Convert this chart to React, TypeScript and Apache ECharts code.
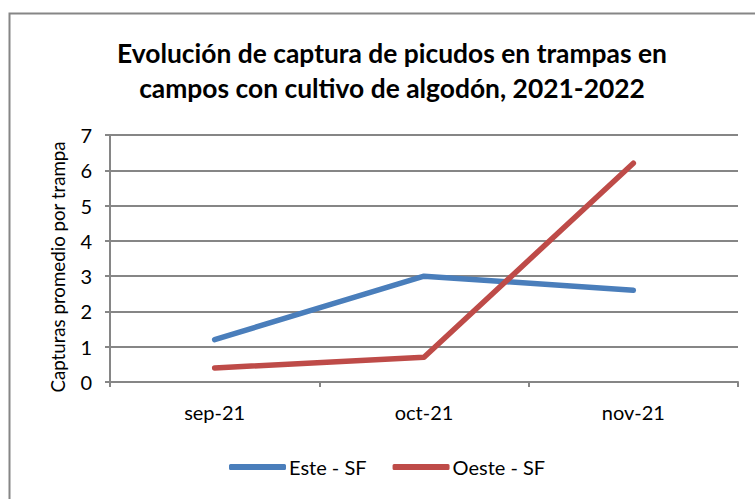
import React, { useEffect, useRef } from "react";
import * as echarts from "echarts";

const categories = ["sep-21", "oct-21", "nov-21"];
const esteSF = [1.2, 3.0, 2.6];
const oesteSF = [0.4, 0.7, 6.2];
const seriesNames = ["Este - SF", "Oeste - SF"];
const titleText = "Evolución de captura de picudos en trampas en\ncampos con cultivo de algodón, 2021-2022";
const yAxisName = "Capturas promedio por trampa";

const FONT = "Lato, 'Open Sans', sans-serif";

export default function App() {
  const ref = useRef<HTMLDivElement>(null);
  useEffect(() => {
    const chart = echarts.init(ref.current!, null, { renderer: "svg" });
    chart.setOption({
      animation: false,
      backgroundColor: "#ffffff",
      textStyle: { fontFamily: FONT },
      title: {
        text: titleText,
        left: 387,
        textAlign: "center",
        top: 30,
        textStyle: { fontFamily: FONT, fontSize: 26.4, fontWeight: "bold", color: "#000", lineHeight: 35 },
      },
      graphic: [
        {
          type: "rect",
          shape: { x: 9.5, y: 13.5, width: 800, height: 600 },
          style: { fill: "none", stroke: "#868686", lineWidth: 2 },
          silent: true,
        },
        {
          type: "text",
          x: 58,
          y: 267,
          rotation: Math.PI / 2,
          style: {
            text: yAxisName,
            fontFamily: FONT,
            fontSize: 18.7,
            fill: "#000",
            align: "center",
            verticalAlign: "middle",
          },
          silent: true,
        },
      ],
      legend: {
        top: 457,
        left: 229,
        padding: 0,
        itemWidth: 57,
        itemHeight: 6,
        itemGap: 26,
        icon: "roundRect",
        textStyle: { fontFamily: FONT, fontSize: 20, color: "#000", padding: [0, 0, 0, -2] },
        data: seriesNames,
      },
      grid: { left: 110, right: 17, top: 135, bottom: 117 },
      xAxis: {
        type: "category",
        data: categories,
        boundaryGap: true,
        axisLine: { lineStyle: { color: "#868686", width: 2 } },
        axisTick: { show: true, length: 5, lineStyle: { color: "#868686", width: 2 } },
        axisLabel: { fontFamily: FONT, fontSize: 20, color: "#000", margin: 20 },
      },
      yAxis: {
        type: "value",
        min: 0,
        max: 7,
        interval: 1,
        axisLine: { show: true, lineStyle: { color: "#868686", width: 2 } },
        axisTick: { show: true, length: 5, lineStyle: { color: "#868686", width: 2 } },
        axisLabel: { fontFamily: FONT, fontSize: 20, color: "#000", margin: 18 },
        splitLine: { show: true, lineStyle: { color: "#868686", width: 2 } },
      },
      series: [
        {
          name: seriesNames[0],
          type: "line",
          data: esteSF,
          symbol: "none",
          lineStyle: { color: "#4A7EBB", width: 5.5, cap: "round", join: "round" },
          itemStyle: { color: "#4A7EBB" },
        },
        {
          name: seriesNames[1],
          type: "line",
          data: oesteSF,
          symbol: "none",
          lineStyle: { color: "#BE4B48", width: 5.5, cap: "round", join: "round" },
          itemStyle: { color: "#BE4B48" },
        },
      ],
    });
    return () => chart.dispose();
  }, []);
  return (
    <div
      ref={ref}
      style={{ position: "fixed", left: 0, top: 0, width: 755, height: 499, background: "#fff" }}
    />
  );
}
